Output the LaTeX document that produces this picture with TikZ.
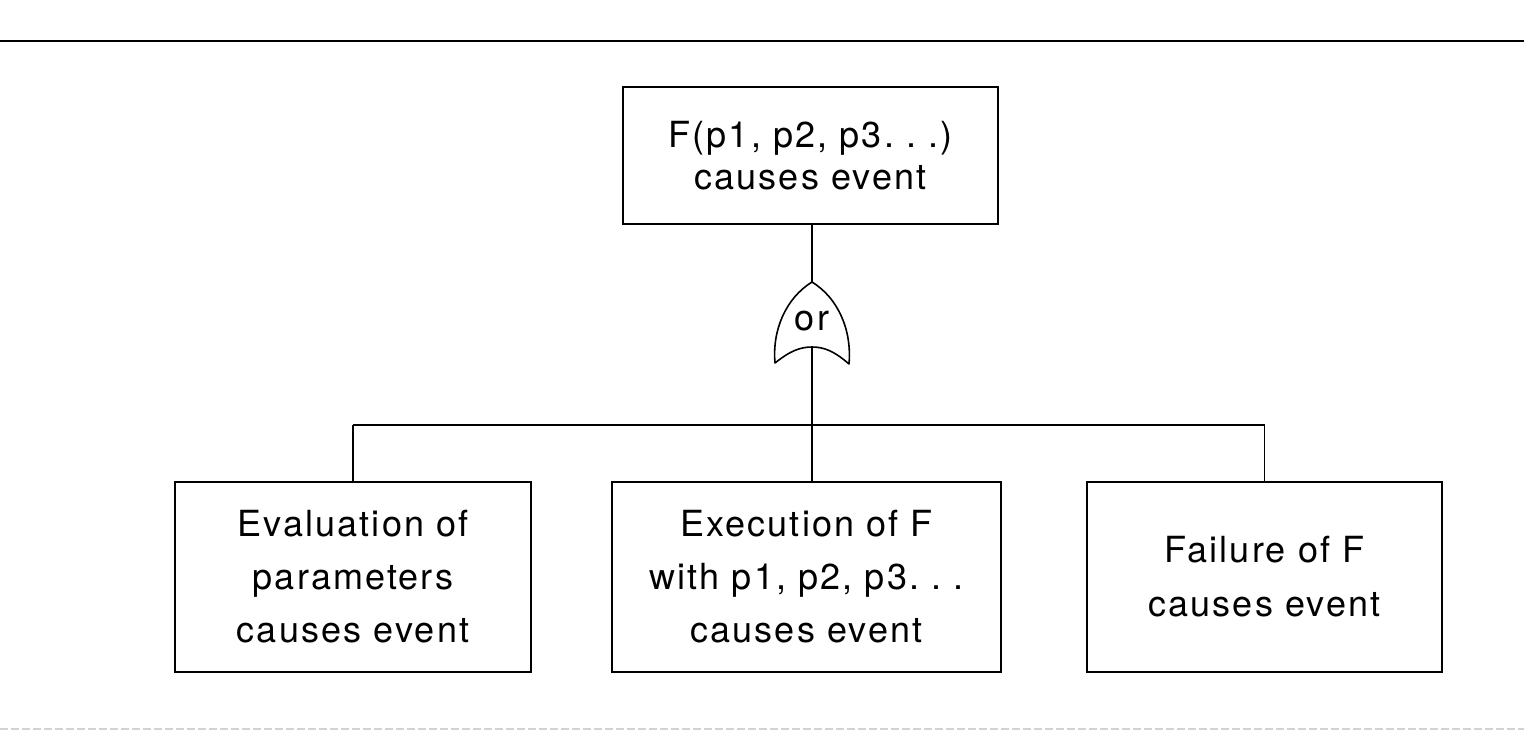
\documentclass[tikz,border=0pt]{standalone}
\usepackage{fontspec}
\setmainfont{TeX Gyre Heros}[LetterSpace=6]
\begin{document}
\begin{tikzpicture}[x=0.5pt,y=-0.5pt,
  txt/.style={font=\fontsize{18}{26.5}\selectfont},
  box/.style={draw, line width=0.8pt, inner sep=0pt, align=center, txt},
  conn/.style={line width=0.8pt},
  rule/.style={line width=1.1pt}]
\useasboundingbox (0,0) rectangle (1524,735);
\fill[white] (0,0) rectangle (1524,735);
% page rules
\coordinate (rtl) at (0,41);
\coordinate (rtr) at (1524,41);
\coordinate (rbl) at (0,729);
\coordinate (rbr) at (1524,729);
\draw[rule] (rtl) -- (rtr);
\draw[gray!35, line width=0.8pt, dash pattern=on 4pt off 1.5pt] (rbl) -- (rbr);
% boxes
\node[box, font=\fontsize{18}{21}\selectfont, minimum width=187.5pt, minimum height=68.5pt] (top) at (810.5,155.5)
  {F(p1, p2, p3.\ .\ .)\\causes event};
\node[box, minimum width=178pt, minimum height=95pt] (left) at (353,577)
  {Evaluation of\\parameters\\causes event};
\node[box, minimum width=194.5pt, minimum height=95pt] (mid) at (806.5,577)
  {Execution of F\\with p1, p2, p3.\ .\ .\\causes event};
\node[box, font=\fontsize{18}{27}\selectfont, minimum width=177.5pt, minimum height=95pt] (right) at (1264.5,577)
  {Failure of F\\causes event};
% or gate
\coordinate (gapex) at (812,282);
\coordinate (gbase) at (812,347);
\draw[conn] (top.south -| gapex) -- (gapex);
\draw[conn, line join=round]
  (gapex) .. controls (786,298) and (772,330) .. (775,363)
  .. controls (790,351) and (800,347) .. (gbase)
  .. controls (824,347) and (834,351) .. (849,364)
  .. controls (852,330) and (838,298) .. (gapex) -- cycle;
\node[txt, inner sep=0pt] (or) at (812,321) {or};
% connectors
\coordinate (j) at (812,425);
\draw[conn] (gbase) -- (j);
\draw[conn] (j -| left.north) -- (j -| right.north);
\draw[conn] (j -| left.north) -- (left.north);
\draw[conn] (j) -- (j |- mid.north);
\draw[conn] (j -| right.north) -- (right.north);
\end{tikzpicture}
\end{document}
